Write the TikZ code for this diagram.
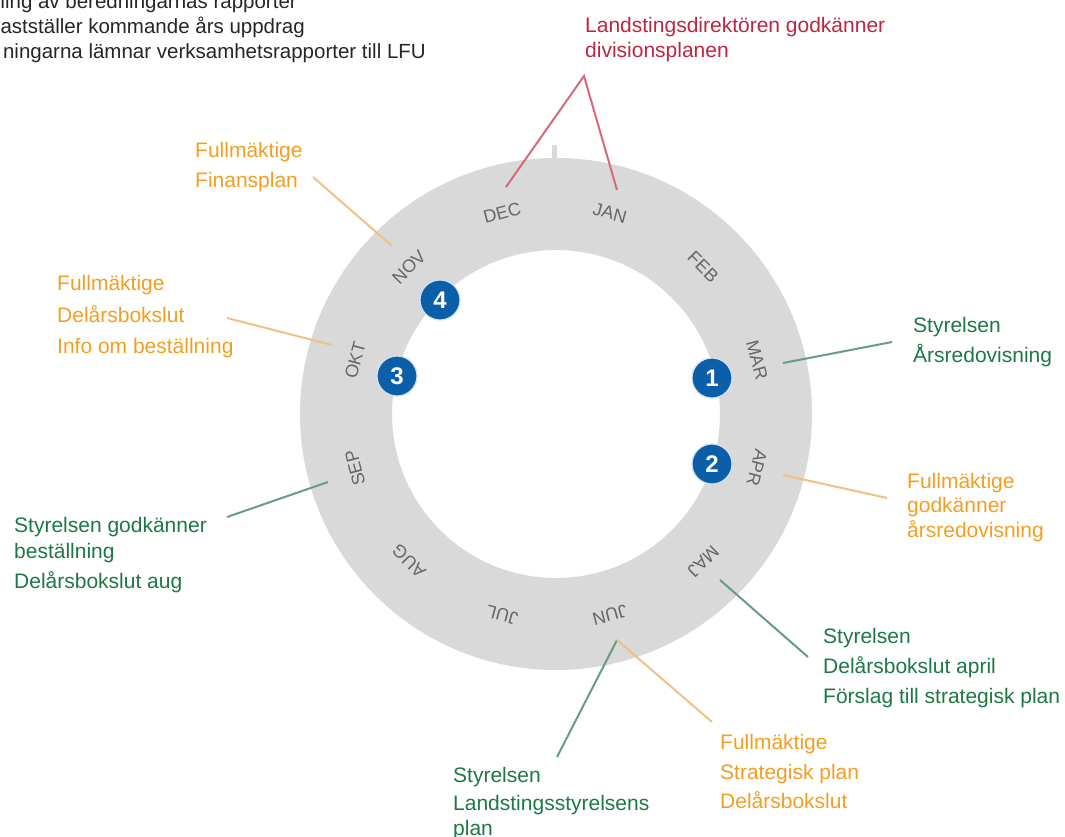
\documentclass[tikz,border=0pt]{standalone}
\usepackage{fontspec}
\setmainfont{Liberation Sans}
\definecolor{ringgray}{HTML}{D9D9D9}
\definecolor{monthgray}{HTML}{666666}
\definecolor{redtxt}{HTML}{BE2540}
\definecolor{redline}{HTML}{D46A7A}
\definecolor{orangetxt}{HTML}{F29E22}
\definecolor{orangeline}{HTML}{EEC286}
\definecolor{greentxt}{HTML}{1C7845}
\definecolor{greenline}{HTML}{679C86}
\definecolor{badgeblue}{HTML}{0B5FA8}
\definecolor{badgerim}{HTML}{CFE2F3}
\begin{document}
\begin{tikzpicture}[x=1pt,y=-1pt,
  lbl/.style={inner sep=0pt, anchor=base west, font=\fontsize{21}{25}\selectfont},
  redlbl/.style={lbl, text=redtxt},
  orangelbl/.style={lbl, text=orangetxt},
  greenlbl/.style={lbl, text=greentxt},
  blacklbl/.style={inner sep=0pt, anchor=base east, text=black!85, font=\fontsize{20.5}{25}\selectfont},
  monthlbl/.style={inner sep=0pt, text=monthgray, font=\fontsize{18}{18}\selectfont},
  badge/.style={circle, fill=badgeblue, draw=badgerim, line width=1.2pt, minimum size=40pt, inner sep=0pt, text=white, font=\fontsize{24}{24}\selectfont\bfseries},
  redcon/.style={draw=redline, line width=2pt},
  orangecon/.style={draw=orangeline, line width=2pt},
  greencon/.style={draw=greenline, line width=2pt}
]
\useasboundingbox (0,0) rectangle (1065,836);

% ring
\coordinate (c) at (556,414);
\fill[ringgray, even odd rule] (c) circle[radius=256pt] (c) circle[radius=164pt];
\fill[ringgray] (551.5,145) rectangle (556.5,159);

% months
\begin{scope}[shift={(c)}]
\foreach \m [count=\i] in {JAN,FEB,MAR,APR,MAJ,JUN,JUL,AUG,SEP,OKT,NOV,DEC}{
  \pgfmathsetmacro\a{15+30*(\i-1)}
  \node[monthlbl, rotate=-\a] (m\i) at (\a-90:208) {\m};
}
\end{scope}

% badges
\node[badge] (b1) at (712,378) {1};
\node[badge] (b2) at (712,464) {2};
\node[badge] (b3) at (397,376) {3};
\node[badge] (b4) at (440,300) {4};

% top-left clipped text
\node[blacklbl] (t1) at (297,8) {ning av beredningarnas rapporter};
\node[blacklbl] (t2) at (305,33) {astställer kommande års uppdrag};
\node[blacklbl] (t3) at (426,58) {ningarna lämnar verksamhetsrapporter till LFU};

% red (DEC/JAN)
\node[redlbl] (r1) at (585,32) {Landstingsdirektören godkänner};
\node[redlbl] (r2) at (585,57) {divisionsplanen};
\coordinate (rpeak) at (584,76);
\coordinate (rdec) at (506,187);
\coordinate (rjan) at (617,190);
\draw[redcon] (rdec) -- (rpeak) -- (rjan);

% NOV
\node[orangelbl] (n1) at (195,157) {Fullmäktige};
\node[orangelbl] (n2) at (195,187) {Finansplan};
\coordinate (nova) at (313,177);
\coordinate (novb) at (392,246);
\draw[orangecon] (nova) -- (novb);

% OKT
\node[orangelbl] (o1) at (57,290) {Fullmäktige};
\node[orangelbl] (o2) at (57,322) {Delårsbokslut};
\node[orangelbl] (o3) at (57,353) {Info om beställning};
\coordinate (okta) at (227,318);
\coordinate (oktb) at (332,345);
\draw[orangecon] (okta) -- (oktb);

% MAR
\node[greenlbl] (s1) at (913,332) {Styrelsen};
\node[greenlbl] (s2) at (913,362) {Årsredovisning};
\coordinate (mara) at (783,363);
\coordinate (marb) at (892,342);
\draw[greencon] (mara) -- (marb);

% APR
\node[orangelbl] (a1) at (907,488) {Fullmäktige};
\node[orangelbl] (a2) at (907,512) {godkänner};
\node[orangelbl] (a3) at (907,537) {årsredovisning};
\coordinate (apra) at (783,475);
\coordinate (aprb) at (887,498);
\draw[orangecon] (apra) -- (aprb);

% MAJ
\node[greenlbl] (j1) at (823,643) {Styrelsen};
\node[greenlbl] (j2) at (823,673) {Delårsbokslut april};
\node[greenlbl] (j3) at (823,703) {Förslag till strategisk plan};
\coordinate (maja) at (720,580);
\coordinate (majb) at (808,657);
\draw[greencon] (maja) -- (majb);

% JUN
\coordinate (junc) at (617,640);
\coordinate (jung) at (557,757);
\coordinate (juno) at (712,722);
\draw[greencon] (junc) -- (jung);
\draw[orangecon] (junc) -- (juno);
\node[greenlbl] (g1) at (453,782) {Styrelsen};
\node[greenlbl] (g2) at (453,810) {Landstingsstyrelsens};
\node[greenlbl] (g3) at (453,835) {plan};
\node[orangelbl] (f1) at (720,749) {Fullmäktige};
\node[orangelbl] (f2) at (720,779) {Strategisk plan};
\node[orangelbl] (f3) at (720,808) {Delårsbokslut};

% SEP
\node[greenlbl] (p1) at (14,532) {Styrelsen godkänner};
\node[greenlbl] (p2) at (14,558) {beställning};
\node[greenlbl] (p3) at (14,588) {Delårsbokslut aug};
\coordinate (sepa) at (227,517);
\coordinate (sepb) at (328,482);
\draw[greencon] (sepa) -- (sepb);
\end{tikzpicture}
\end{document}
